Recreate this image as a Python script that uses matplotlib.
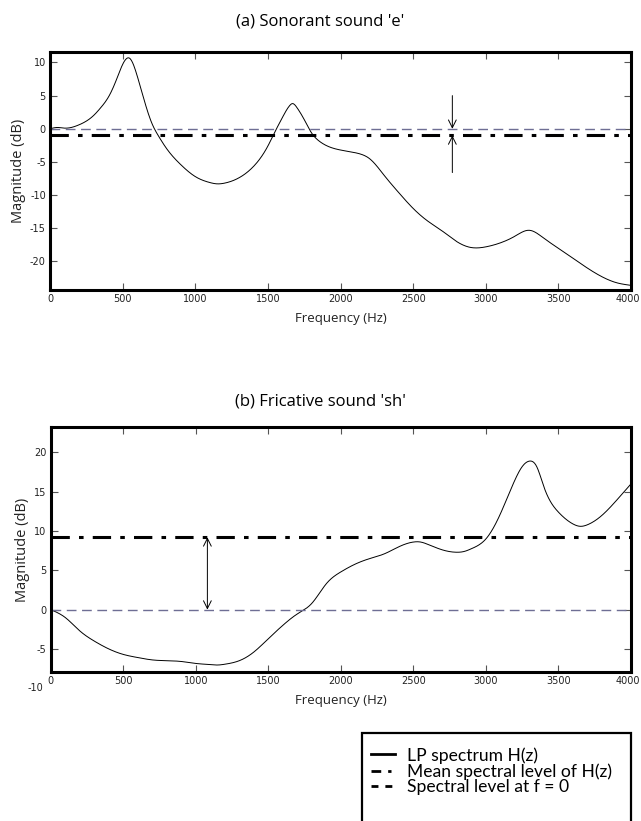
import numpy as np
import matplotlib
matplotlib.use("Agg")
import matplotlib.pyplot as plt
from matplotlib.lines import Line2D
from matplotlib.patches import Rectangle
import matplotlib.transforms as mtransforms

# (a) sonorant 'e' -- LP spectrum
freq_a = [0, 50, 100, 200, 300, 350, 400, 450, 500, 550, 600, 650, 700, 750, 800, 900,
          1000, 1100, 1150, 1200, 1300, 1400, 1500, 1550, 1600, 1650, 1670, 1700,
          1750, 1800, 1850, 1900, 2000, 2100, 2150, 2200, 2300, 2400, 2500, 2600,
          2700, 2800, 2900, 3000, 3100, 3200, 3300, 3400, 3500, 3600, 3700, 3800,
          3900, 4000]
mag_a = [0.0, 0.2, 0.1, 0.6, 2.0, 3.2, 4.7, 7.0, 9.7, 10.6, 8.0, 4.2, 0.9, -1.2, -2.9, -5.4,
         -7.2, -8.1, -8.3, -8.2, -7.4, -5.7, -2.6, -0.4, 1.7, 3.5, 3.8, 3.2,
         1.4, -0.6, -1.8, -2.5, -3.2, -3.6, -3.9, -4.5, -7.0, -9.6, -12.0, -13.9,
         -15.4, -17.0, -17.9, -17.8, -17.2, -16.2, -15.3, -16.5, -18.0, -19.5, -21.0, -22.3,
         -23.2, -23.6]
mean_a = -1.0
arrow_x_a = 2770
arrow_a_top = 5.0
arrow_a_bot = -6.6

# (b) fricative 'sh'
freq_b = [0, 100, 200, 300, 400, 500, 600, 700, 800, 900, 1000, 1100, 1150, 1200,
          1300, 1400, 1500, 1600, 1700, 1800, 1900, 2000, 2100, 2200, 2300, 2400,
          2500, 2550, 2600, 2700, 2800, 2850, 2900, 3000, 3100, 3200, 3250, 3300,
          3350, 3400, 3500, 3600, 3650, 3700, 3800, 3900, 4000]
mag_b = [0.0, -1.0, -2.7, -4.0, -5.0, -5.7, -6.1, -6.4, -6.5, -6.6, -6.85, -7.0, -7.05, -6.95,
         -6.5, -5.4, -3.7, -2.0, -0.55, 0.8, 3.3, 4.8, 5.8, 6.5, 7.1, 8.0,
         8.6, 8.6, 8.3, 7.6, 7.3, 7.4, 7.75, 9.0, 12.2, 16.5, 18.2, 18.9,
         18.2, 15.6, 12.4, 10.9, 10.6, 10.8, 12.0, 13.9, 16.0]
mean_b = 9.2
arrow_x_b = 1080

legend_labels = ["LP spectrum H(z)", "Mean spectral level of H(z)", "Spectral level at f = 0"]

W, H = 641, 821
fig = plt.figure(figsize=(W / 100, H / 100), dpi=100)

dash_col = "#6e6e94"
tick_font = {"family": "DejaVu Sans", "size": 7}


def fx(px):
    return px / W


def fy(py):
    return 1 - py / H


def spline(x, y, n=1000):
    # natural cubic spline through the read points
    x = np.asarray(x, float)
    y = np.asarray(y, float)
    k = len(x)
    h = np.diff(x)
    A = np.zeros((k, k))
    r = np.zeros(k)
    A[0, 0] = A[-1, -1] = 1
    for i in range(1, k - 1):
        A[i, i - 1] = h[i - 1]
        A[i, i] = 2 * (h[i - 1] + h[i])
        A[i, i + 1] = h[i]
        r[i] = 6 * ((y[i + 1] - y[i]) / h[i] - (y[i] - y[i - 1]) / h[i - 1])
    M = np.linalg.solve(A, r)
    xs = np.linspace(x[0], x[-1], n)
    j = np.clip(np.searchsorted(x, xs, side="right") - 1, 0, k - 2)
    a = x[j + 1] - xs
    b = xs - x[j]
    hj = h[j]
    ys = (M[j] * a**3 / (6 * hj) + M[j + 1] * b**3 / (6 * hj)
          + (y[j] / hj - M[j] * hj / 6) * a + (y[j + 1] / hj - M[j + 1] * hj / 6) * b)
    return xs, ys


def style_axes(ax, yticks, ylim):
    ax.set_xlim(0, 4000)
    ax.set_ylim(*ylim)
    ax.set_xticks(np.arange(0, 4001, 500))
    ax.set_yticks(yticks)
    ax.set_xticklabels([str(v) for v in range(0, 4001, 500)], fontdict=tick_font)
    ax.set_yticklabels([str(v) for v in yticks], fontdict=tick_font)
    ax.tick_params(direction="in", length=5, width=0.8, color="#555555",
                   top=True, right=True, pad=3, labelcolor="#222222")
    # last label "4000" sits at the right edge, keep it inside the picture
    last = ax.get_xticklabels()[-1]
    last.set_horizontalalignment("right")
    last.set_transform(last.get_transform() + mtransforms.ScaledTranslation(9 / 100, 0, fig.dpi_scale_trans))
    for s in ax.spines.values():
        s.set_linewidth(2.2)
        s.set_color("black")
    ax.set_xlabel("Frequency (Hz)", fontsize=9.5, family="Open Sans", color="#222222", labelpad=6)
    ax.set_ylabel("Magnitude (dB)", fontsize=10.5, family="Open Sans", color="#222222", labelpad=3)


# ---------------- (a) ----------------
ax1 = fig.add_axes([fx(50), fy(290), fx(631) - fx(50), fy(52.5) - fy(290)])
xs, ys = spline(freq_a, mag_a)
ax1.plot(xs, ys, color="black", lw=0.7)
ax1.axhline(0, color=dash_col, lw=1.0, dashes=(7, 4))
ax1.axhline(mean_a, color="black", lw=2.2, dashes=(6, 3, 1.5, 3))
ax1.annotate("", xy=(arrow_x_a, 0), xytext=(arrow_x_a, arrow_a_top),
             arrowprops=dict(arrowstyle="->", lw=0.7, color="black", mutation_scale=14,
                             shrinkA=0, shrinkB=0))
ax1.annotate("", xy=(arrow_x_a, mean_a), xytext=(arrow_x_a, arrow_a_bot),
             arrowprops=dict(arrowstyle="->", lw=0.7, color="black", mutation_scale=14,
                             shrinkA=0, shrinkB=0))
style_axes(ax1, [-20, -15, -10, -5, 0, 5, 10], (-24.3, 11.5))
fig.text(0.5, fy(22), "(a) Sonorant sound 'e'", ha="center", va="center",
         fontsize=12, family="Open Sans")

# ---------------- (b) ----------------
ax2 = fig.add_axes([fx(50.7), fy(671.7), fx(631) - fx(50.7), fy(427.3) - fy(671.7)])
xs, ys = spline(freq_b, mag_b)
ax2.plot(xs, ys, color="black", lw=0.7)
ax2.axhline(0, color=dash_col, lw=1.0, dashes=(7, 4))
ax2.axhline(mean_b, color="black", lw=2.2, dashes=(6, 3, 1.5, 3))
ax2.annotate("", xy=(arrow_x_b, 0), xytext=(arrow_x_b, mean_b),
             arrowprops=dict(arrowstyle="<->", lw=0.7, color="black", mutation_scale=14,
                             shrinkA=0, shrinkB=0))
style_axes(ax2, [-5, 0, 5, 10, 15, 20], (-7.9, 23.2))
trans = mtransforms.blended_transform_factory(ax2.transAxes, ax2.transData)
ax2.text(-0.012, -10, "-10", transform=trans, ha="right", va="center",
         fontdict=tick_font, color="#222222", clip_on=False)
fig.text(0.5, fy(402), "(b) Fricative sound 'sh'", ha="center", va="center",
         fontsize=12, family="Open Sans")

# ---------------- legend (box runs off the bottom edge) ----------------
fig.patches.append(Rectangle((fx(362), fy(840)), fx(631) - fx(362), fy(733) - fy(840),
                             transform=fig.transFigure, fill=False, edgecolor="black",
                             lw=1.6))
handles = [Line2D([], [], color="black", lw=2.0),
           Line2D([], [], color="black", lw=2.0, dashes=(3.5, 2.5, 1.2, 2.5)),
           Line2D([], [], color="black", lw=2.0, dashes=(2.5, 2.5))]
leg = fig.legend(handles, legend_labels, loc="upper left",
                 bbox_to_anchor=(fx(371), fy(747)), frameon=False,
                 prop={"family": "Lato", "size": 12.6}, handlelength=1.35,
                 handletextpad=0.7, borderpad=0, borderaxespad=0, labelspacing=-0.02)

fig.savefig("out.png", dpi=100)
